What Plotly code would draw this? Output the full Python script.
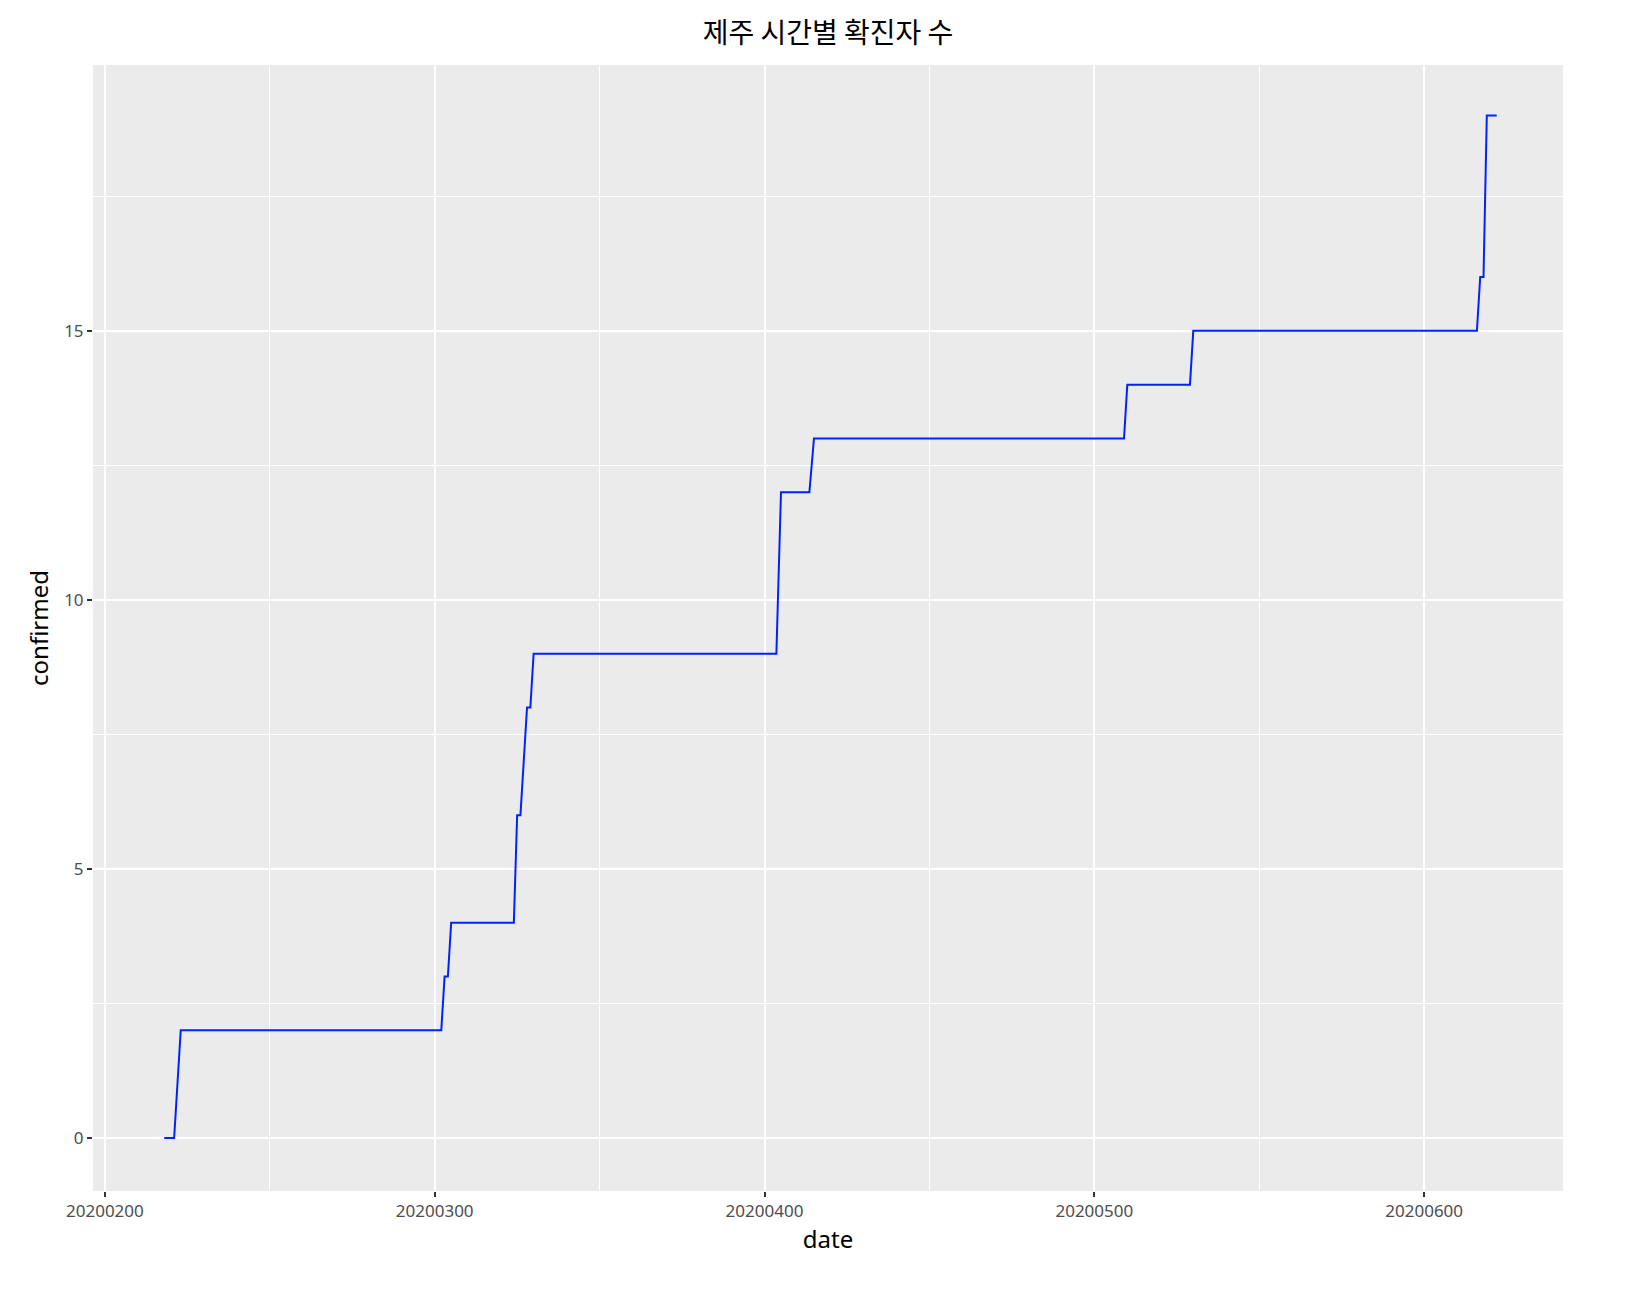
import plotly.graph_objects as go

dates = [20200218, 20200221, 20200223, 20200302, 20200303, 20200304, 20200305,
         20200324, 20200325, 20200326, 20200328, 20200329, 20200330,
         20200403.6, 20200405, 20200413.6, 20200415, 20200509, 20200510,
         20200529, 20200530, 20200616, 20200617, 20200618, 20200619, 20200622]
confirmed = [0, 0, 2, 2, 3, 3, 4,
             4, 6, 6, 8, 8, 9,
             9, 12, 12, 13, 13, 14,
             14, 15, 15, 16, 16, 19, 19]
x_ticks = [20200200, 20200300, 20200400, 20200500, 20200600]
y_ticks = [0, 5, 10, 15]

fig = go.Figure(go.Scatter(x=dates, y=confirmed, mode="lines",
                           line=dict(color="#0022FF", width=2)))
font = "Noto Sans, Noto Sans CJK KR"
axis_common = dict(showline=False, zeroline=False, gridcolor="white", gridwidth=2,
                   ticks="outside", ticklen=5, tickcolor="#333333", tickwidth=1.5,
                   tickfont=dict(size=17, color="#4D4D4D", family=font),
                   title_font=dict(size=24, color="black", family=font))
fig.update_layout(
    width=1632, height=1306,
    margin=dict(l=85, r=77, t=57, b=123),
    paper_bgcolor="white", plot_bgcolor="#EBEBEB",
    title=dict(text="제주 시간별 확진자 수", x=(85 + 1555) / 2 / 1632, xanchor="center",
               y=1 - 25 / 1306, yanchor="middle",
               font=dict(size=28, family="Noto Sans CJK KR", color="black")),
    showlegend=False,
)
fig.update_xaxes(range=[20200196.4, 20200642.1], tickvals=x_ticks,
                 ticktext=[str(v) for v in x_ticks], title_text="date",
                 title_standoff=2,
                 minor=dict(tickvals=[20200250, 20200350, 20200450, 20200550],
                            showgrid=True, gridcolor="white", gridwidth=1, ticks=""),
                 **axis_common)
fig.update_yaxes(range=[-0.985, 19.94], tickvals=y_ticks,
                 ticktext=[str(v) for v in y_ticks], title_text="confirmed",
                 title_standoff=8,
                 minor=dict(tickvals=[2.5, 7.5, 12.5, 17.5],
                            showgrid=True, gridcolor="white", gridwidth=1, ticks=""),
                 **axis_common)
fig.write_html("out.html")
